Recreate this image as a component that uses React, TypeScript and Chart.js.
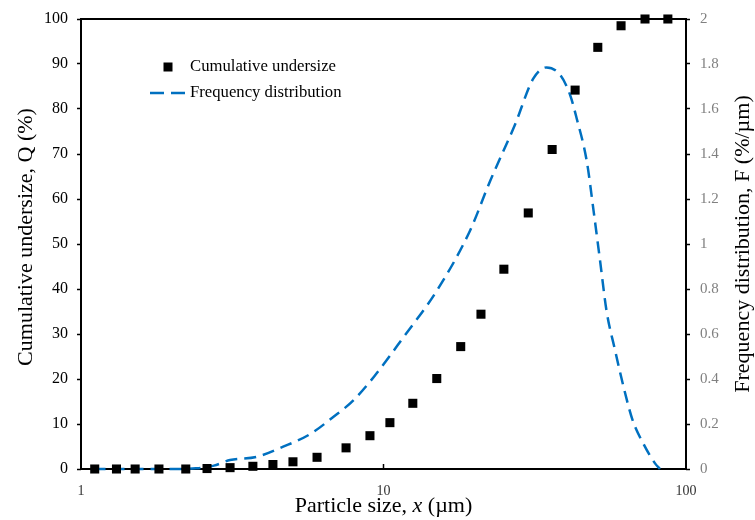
import React, { useEffect, useRef } from "react";
import { Chart, registerables } from "chart.js";

Chart.register(...registerables);

// Cumulative undersize data (particle size in µm, Q in %)
const particleSizes = [1.11, 1.31, 1.51, 1.81, 2.22, 2.61, 3.11, 3.7, 4.31, 5.02, 6.03, 7.52, 9.02, 10.5, 12.5, 15.0, 18.0, 21.0, 25.0, 30.1, 36.1, 43.0, 51.1, 61.0, 73.2, 87.1];
const cumulativeUndersize = [0, 0, 0, 0, 0, 0.1, 0.3, 0.6, 1.0, 1.6, 2.6, 4.7, 7.4, 10.3, 14.6, 20.1, 27.2, 34.4, 44.4, 56.9, 71.0, 84.2, 93.7, 98.5, 100, 100];

// Frequency distribution curve (particle size in µm, F in %/µm)
const freqSizes = [1.1, 1.5, 2.0, 2.4, 2.75, 3.11, 3.81, 4.66, 5.72, 6.82, 7.95, 9.3, 11.63, 15.0, 19.3, 22.5, 27.2, 31.3, 34.6, 38.4, 41.4, 43.5, 47.0, 49.5, 52.0, 54.6, 58.3, 62.2, 66.6, 72.2, 79.0, 82.0];
const freqValues = [0, 0, 0, 0.003, 0.015, 0.04, 0.054, 0.099, 0.155, 0.231, 0.305, 0.41, 0.585, 0.792, 1.058, 1.279, 1.53, 1.736, 1.785, 1.751, 1.662, 1.559, 1.367, 1.146, 0.925, 0.704, 0.527, 0.364, 0.217, 0.114, 0.025, 0];

const xTickValues = [1, 10, 100];
const xTitleParts = ["Particle size, ", "x", " (µm)"];
const yLeftTitle = "Cumulative undersize, Q (%)";
const yRightTitle = "Frequency distribution, F (%/µm)";
const legendLabels = ["Cumulative undersize", "Frequency distribution"];

const SERIF = "'Liberation Serif', 'Times New Roman', serif";
const BLUE = "#0070C0";

export default function App() {
  const ref = useRef<HTMLCanvasElement | null>(null);

  useEffect(() => {
    if (!ref.current) return;

    const decorPlugin = {
      id: "decor",
      beforeDatasetsDraw(chart: any) {
        const { ctx, chartArea } = chart;
        const { left, right, top, bottom } = chartArea;
        ctx.save();
        ctx.strokeStyle = "#000";
        ctx.lineWidth = 2;
        ctx.strokeRect(left, top, right - left, bottom - top);
        // inward x ticks
        const xs = chart.scales.x;
        ctx.lineWidth = 1.5;
        xTickValues.forEach((v) => {
          const px = xs.getPixelForValue(v);
          ctx.beginPath();
          ctx.moveTo(px, bottom);
          ctx.lineTo(px, bottom - 5);
          ctx.stroke();
        });
        ctx.restore();
      },
      afterDraw(chart: any) {
        const { ctx, chartArea } = chart;
        ctx.save();
        ctx.fillStyle = "#000";
        ctx.font = `22px ${SERIF}`;
        ctx.textAlign = "center";
        ctx.textBaseline = "middle";
        // left title
        ctx.save();
        ctx.translate(26, 237);
        ctx.rotate(-Math.PI / 2);
        ctx.fillText(yLeftTitle, 0, 0);
        ctx.restore();
        // right title
        ctx.save();
        ctx.translate(743, 244);
        ctx.rotate(-Math.PI / 2);
        ctx.fillText(yRightTitle, 0, 0);
        ctx.restore();
        // bottom title with italic x
        const fonts = [`22px ${SERIF}`, `italic 22px ${SERIF}`, `22px ${SERIF}`];
        let total = 0;
        const widths = xTitleParts.map((t, i) => {
          ctx.font = fonts[i];
          const w = ctx.measureText(t).width;
          total += w;
          return w;
        });
        const cx = (chartArea.left + chartArea.right) / 2;
        let x = cx - total / 2;
        ctx.textAlign = "left";
        xTitleParts.forEach((t, i) => {
          ctx.font = fonts[i];
          ctx.fillText(t, x, 506);
          x += widths[i];
        });
        // legend
        ctx.fillStyle = "#000";
        ctx.fillRect(168 - 4.5, 67 - 4.5, 9, 9);
        ctx.font = `16.7px ${SERIF}`;
        ctx.textAlign = "left";
        ctx.fillText(legendLabels[0], 190, 67);
        ctx.strokeStyle = BLUE;
        ctx.lineWidth = 2.5;
        ctx.setLineDash([14, 7]);
        ctx.beginPath();
        ctx.moveTo(150, 93);
        ctx.lineTo(187, 93);
        ctx.stroke();
        ctx.setLineDash([]);
        ctx.fillText(legendLabels[1], 190, 93);
        ctx.restore();
      },
    };

    const chart = new Chart(ref.current, {
      type: "scatter",
      data: {
        datasets: [
          {
            label: legendLabels[0],
            data: particleSizes.map((x, i) => ({ x, y: cumulativeUndersize[i] })),
            yAxisID: "y",
            pointStyle: "rect",
            pointRadius: 6.4,
            pointHoverRadius: 6.4,
            pointBorderWidth: 0,
            backgroundColor: "#000",
            borderColor: "#000",
            showLine: false,
            clip: false as any,
          },
          {
            label: legendLabels[1],
            data: freqSizes.map((x, i) => ({ x, y: freqValues[i] })),
            yAxisID: "y1",
            showLine: true,
            pointRadius: 0,
            borderColor: BLUE,
            backgroundColor: BLUE,
            borderWidth: 2.5,
            borderDash: [12, 7],
            cubicInterpolationMode: "monotone",
            clip: false as any,
          },
        ],
      },
      options: {
        animation: false,
        responsive: false,
        events: [],
        layout: { padding: { top: 17, left: 0, right: 0, bottom: 0 } },
        plugins: {
          legend: { display: false },
          tooltip: { enabled: false },
        },
        scales: {
          x: {
            type: "logarithmic",
            position: "bottom",
            min: 1,
            max: 100,
            afterBuildTicks: (s: any) => {
              s.ticks = xTickValues.map((v) => ({ value: v }));
            },
            afterFit: (s: any) => {
              s.height = 51;
            },
            grid: { display: false },
            border: { display: false },
            ticks: {
              autoSkip: false,
              maxRotation: 0,
              padding: 6,
              color: "#333",
              font: { family: SERIF, size: 14 },
              callback: (v: any) => String(v),
            },
          },
          y: {
            type: "linear",
            position: "left",
            min: 0,
            max: 100,
            afterFit: (s: any) => {
              s.width = 81;
            },
            grid: {
              display: true,
              drawOnChartArea: false,
              drawTicks: true,
              tickLength: 4,
              color: "#000",
              tickWidth: 1.5,
            },
            border: { display: false },
            ticks: {
              stepSize: 10,
              padding: 9,
              color: "#000",
              font: { family: SERIF, size: 16 },
            },
          },
          y1: {
            type: "linear",
            position: "right",
            min: 0,
            max: 2,
            afterFit: (s: any) => {
              s.width = 69;
            },
            grid: {
              display: true,
              drawOnChartArea: false,
              drawTicks: true,
              tickLength: 4,
              color: "#000",
              tickWidth: 1.5,
            },
            border: { display: false },
            ticks: {
              stepSize: 0.2,
              padding: 10,
              color: "#808080",
              font: { family: SERIF, size: 15 },
              callback: (v: any) => String(Number(Number(v).toFixed(1))),
            },
          },
        },
      },
      plugins: [decorPlugin],
    });

    return () => chart.destroy();
  }, []);

  return (
    <div style={{ position: "fixed", left: 0, top: 0, width: 755, height: 520, background: "#fff" }}>
      <canvas ref={ref} width={755} height={520} />
    </div>
  );
}
